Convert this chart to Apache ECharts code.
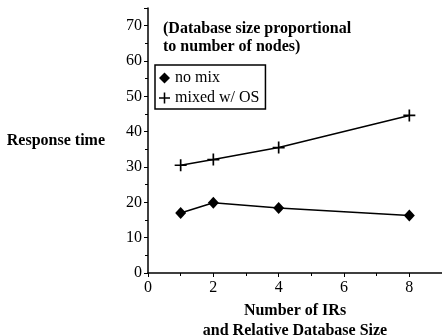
<!DOCTYPE html>
<html>
<head>
<meta charset="utf-8">
<script src="https://cdn.jsdelivr.net/npm/echarts@6/dist/echarts.min.js"></script>
<style>
  html, body { margin: 0; padding: 0; background: #fff; }
  #chart { width: 442px; height: 336px; }
</style>
</head>
<body>
<div id="chart"></div>
<script>
// data
var xValues = [1, 2, 4, 8];
var noMix = [17.0, 19.9, 18.4, 16.3];
var mixedOS = [30.5, 32.1, 35.5, 44.6];
var seriesNames = ['no mix', 'mixed w/ OS'];

var serif = 'Liberation Serif';
var plusPath = 'path://M4.3,0H5.7V4.3H10V5.7H5.7V10H4.3V5.7H0V4.3H4.3Z';

function pairs(ys) {
  return xValues.map(function (x, i) { return [x, ys[i]]; });
}

var chart = echarts.init(document.getElementById('chart'), null, { renderer: 'canvas' });

var option = {
  animation: false,
  backgroundColor: '#fff',
  grid: { left: 148, right: 0, top: 8, bottom: 63, outerBoundsMode: 'none', containLabel: false },
  legend: {
    orient: 'vertical',
    left: 155,
    top: 65,
    padding: [5, 6, 3, 4],
    itemGap: 4,
    itemWidth: 11,
    itemHeight: 11,
    borderColor: '#000',
    borderWidth: 1.5,
    textStyle: { fontFamily: serif, fontSize: 16, color: '#000' },
    data: [
      { name: seriesNames[0], icon: 'diamond' },
      { name: seriesNames[1], icon: plusPath }
    ]
  },
  xAxis: {
    type: 'value',
    min: 0,
    max: 9,
    interval: 2,
    name: 'Number of IRs\nand Relative Database Size',
    nameLocation: 'middle',
    nameGap: 23,
    nameTextStyle: { fontFamily: serif, fontSize: 16, fontWeight: 'bold', color: '#000', lineHeight: 20 },
    axisLine: { lineStyle: { color: '#000', width: 1.5 } },
    axisTick: { length: 4, lineStyle: { color: '#000' } },
    minorTick: { show: true, splitNumber: 2, length: 3, lineStyle: { color: '#000' } },
    axisLabel: { fontFamily: serif, fontSize: 16, color: '#000', margin: 7, showMaxLabel: false },
    splitLine: { show: false }
  },
  yAxis: {
    type: 'value',
    min: 0,
    max: 75,
    interval: 10,
    name: 'Response time',
    nameLocation: 'middle',
    nameRotate: 0,
    nameGap: 43,
    nameTextStyle: { fontFamily: serif, fontSize: 16, fontWeight: 'bold', color: '#000', align: 'right' },
    axisLine: { show: true, lineStyle: { color: '#000', width: 1.5 } },
    axisTick: { show: true, length: 4, lineStyle: { color: '#000' } },
    minorTick: { show: true, splitNumber: 2, length: 3, lineStyle: { color: '#000' } },
    axisLabel: { fontFamily: serif, fontSize: 16, color: '#000', margin: 6, showMaxLabel: false },
    splitLine: { show: false }
  },
  graphic: [
    {
      type: 'text',
      left: 163,
      top: 20,
      style: {
        text: '(Database size proportional\nto number of nodes)',
        fontFamily: serif,
        fontSize: 16,
        fontWeight: 'bold',
        lineHeight: 18,
        fill: '#000'
      }
    }
  ],
  series: [
    {
      name: seriesNames[0],
      type: 'line',
      data: pairs(noMix),
      symbol: 'diamond',
      symbolSize: [11, 12],
      itemStyle: { color: '#000' },
      lineStyle: { color: '#000', width: 1.5 }
    },
    {
      name: seriesNames[1],
      type: 'line',
      data: pairs(mixedOS),
      symbol: plusPath,
      symbolSize: 12,
      itemStyle: { color: '#000' },
      lineStyle: { color: '#000', width: 1.5 }
    }
  ]
};

chart.setOption(option);
</script>
</body>
</html>
